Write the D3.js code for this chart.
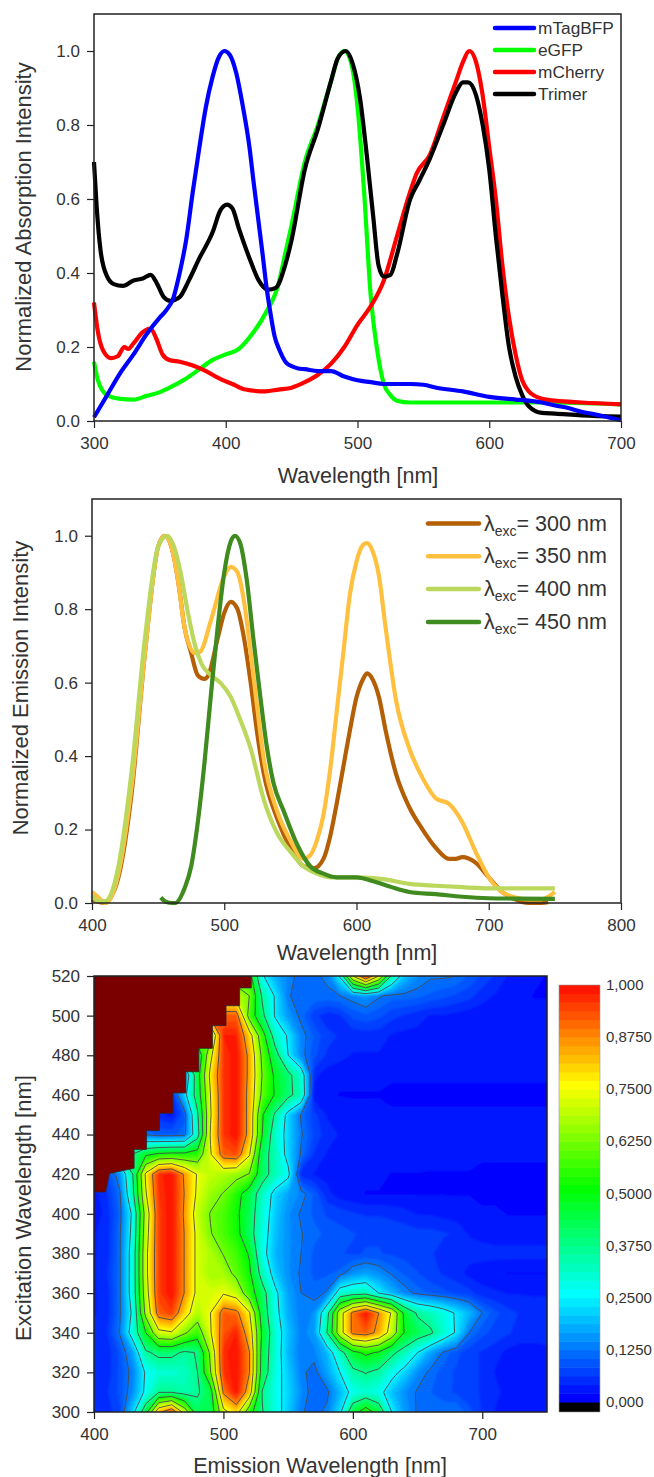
<!DOCTYPE html>
<html>
<head>
<meta charset="utf-8">
<script src="https://cdnjs.cloudflare.com/ajax/libs/d3/7.8.5/d3.min.js"></script>
<style>
    html, body { margin: 0; padding: 0; background: #fff; }
    svg text { font-family: "Liberation Sans", Arial, sans-serif; fill: #333; }
</style>
</head>
<body>
<svg id="figure" width="654" height="1477"></svg>
<script>
// top panel, absorption: [wavelength, normalized intensity]
const mTagBFP = [[300,.01],[310,.07],[320,.13],[330,.18],[340,.235],[350,.28],[355,.3],[360,.33],[365,.4],[370,.49],[375,.62],[380,.74],[385,.85],[390,.93],[395,.985],[399,1],[403,.99],[408,.94],[413,.85],[418,.74],[421,.65],[424.5,.55],[428,.45],[431,.36],[434,.29],[437,.23],[441,.19],[446,.157],[450,.148],[455,.142],[460,.14],[470,.135],[480,.135],[490,.12],[500,.11],[510,.105],[520,.1],[540,.1],[550,.098],[560,.09],[580,.08],[600,.065],[620,.058],[630,.055],[640,.05],[650,.042],[660,.035],[670,.025],[680,.018],[690,.01],[700,.002]];
const eGFP = [[300,.16],[303,.11],[310,.07],[320,.06],[330,.058],[340,.068],[350,.078],[360,.095],[370,.115],[380,.14],[390,.165],[400,.18],[410,.195],[420,.235],[430,.29],[440,.37],[445,.45],[450,.53],[460,.7],[470,.8],[480,.92],[485,.98],[490,1],[495,.97],[500,.85],[505,.62],[510,.34],[515,.19],[520,.1],[525,.07],[530,.055],[540,.05],[560,.05],[600,.05],[640,.05],[700,.045]];
const mCherry = [[300,.32],[303,.24],[307,.19],[313,.17],[318,.175],[323,.2],[326,.195],[330,.21],[337,.24],[343,.25],[347,.225],[352,.18],[357,.165],[365,.16],[375,.15],[385,.135],[395,.115],[405,.1],[415,.085],[430,.08],[440,.085],[450,.09],[460,.105],[470,.125],[480,.155],[490,.2],[500,.26],[510,.31],[520,.38],[530,.5],[540,.62],[545,.67],[555,.72],[565,.82],[575,.92],[580,.97],[585,1],[590,.97],[595,.88],[600,.74],[605,.6],[610,.42],[615,.28],[620,.18],[625,.11],[630,.08],[640,.06],[650,.055],[670,.05],[700,.045]];
const trimer = [[300,.7],[302,.58],[305,.46],[310,.39],[315,.37],[322,.365],[330,.38],[337,.385],[343,.395],[348,.37],[353,.335],[358,.325],[365,.335],[372,.38],[380,.44],[390,.51],[396,.57],[401,.585],[405,.575],[410,.52],[418,.44],[425,.38],[432,.355],[438,.36],[445,.42],[450,.49],[460,.68],[470,.79],[480,.92],[485,.98],[491,1],[496,.97],[502,.87],[507,.72],[512,.55],[516,.42],[520,.39],[525,.395],[530,.45],[540,.6],[547,.65],[555,.71],[565,.8],[575,.89],[580,.915],[584,.915],[590,.88],[595,.8],[600,.68],[605,.5],[610,.34],[615,.2],[620,.12],[625,.07],[630,.04],[640,.022],[650,.02],[670,.015],[700,.012]];

// middle panel, emission at four excitation wavelengths
const exc300 = [[400,.01],[410,0],[415,.02],[420,.07],[430,.3],[440,.68],[450,.97],[455,1],[460,.97],[465,.88],[470,.75],[475,.68],[480,.62],[485,.61],[488,.62],[495,.72],[500,.79],[505,.82],[510,.8],[515,.72],[520,.6],[525,.46],[530,.35],[540,.23],[550,.15],[560,.1],[568,.095],[575,.12],[580,.18],[585,.27],[590,.37],[595,.47],[600,.56],[605,.61],[608,.625],[612,.61],[617,.56],[622,.47],[630,.35],[640,.26],[650,.2],[660,.15],[670,.12],[675,.12],[680,.125],[690,.11],[700,.07],[710,.03],[720,.01],[730,0],[740,0],[745,.002]];
const exc350 = [[400,.03],[405,.015],[410,0],[415,.02],[420,.08],[430,.32],[440,.68],[450,.97],[455,1],[460,.97],[465,.88],[470,.75],[478,.68],[482,.685],[490,.77],[500,.89],[505,.915],[510,.9],[515,.82],[520,.68],[525,.53],[530,.39],[540,.25],[550,.17],[560,.12],[565,.13],[570,.17],[575,.24],[580,.36],[585,.52],[590,.68],[595,.84],[600,.93],[605,.975],[608,.98],[612,.96],[617,.89],[622,.75],[630,.55],[640,.42],[650,.34],[660,.285],[670,.27],[680,.22],[690,.14],[700,.07],[710,.03],[720,.015],[730,.01],[740,.01],[750,.03]];
const exc400 = [[400,.02],[405,.005],[410,.005],[415,.03],[420,.1],[430,.36],[440,.72],[450,.97],[457,1],[462,.97],[467,.9],[472,.8],[478,.7],[483,.65],[490,.62],[497,.6],[505,.56],[512,.5],[520,.42],[530,.28],[540,.19],[550,.14],[560,.1],[570,.08],[580,.07],[600,.07],[620,.065],[640,.052],[660,.047],[680,.043],[700,.04],[720,.04],[750,.04]];
const exc450 = [[452,.015],[455,.005],[460,0],[463,0],[470,.04],[475,.1],[480,.22],[485,.38],[490,.57],[495,.75],[500,.9],[505,.985],[508,1],[512,.98],[517,.88],[522,.72],[527,.57],[532,.43],[537,.33],[545,.25],[555,.16],[565,.1],[575,.08],[585,.07],[600,.07],[612,.06],[625,.045],[640,.03],[660,.024],[680,.017],[700,.013],[720,.012],[750,.011]];

const absorptionNames = ["mTagBFP", "eGFP", "mCherry", "Trimer"];
const absorptionColors = ["#0000ff", "#00ff00", "#ff0000", "#000000"];
const emissionExc = ["300", "350", "400", "450"];
const emissionColors = ["#b45f06", "#ffc03f", "#bcd85c", "#3f8b1f"];

// bottom panel, excitation-emission map, one row per excitation wavelength
const emissionNm = d3.range(400, 760, 10);
const excitationNm = d3.range(300, 530, 10);
const mapRows = [
    [.05,.05,.08,.22,.45,.85,.97,.70,.42,.42, .72,.80,.55,.38,.29,.21,.13,.11,.135,.23, .45,.56,.45,.25,.16,.12,.12,.12,.125,.09, .06,.04,.03,.03,.03,.03],
    [.05,.06,.09,.15,.27,.37,.37,.34,.36,.45, .89,1,.82,.37,.28,.22,.15,.105,.115,.19, .28,.30,.28,.20,.15,.12,.105,.09,.08,.07, .06,.05,.03,.025,.025,.025],
    [.05,.05,.09,.14,.26,.30,.30,.32,.375,.62, .96,1,.88,.44,.29,.21,.135,.11,.17,.25, .35,.38,.35,.28,.22,.15,.115,.095,.08,.07, .06,.04,.03,.025,.025,.025],
    [.05,.05,.09,.17,.36,.40,.40,.36,.38,.65, .97,1,.88,.45,.30,.19,.13,.14,.19,.33, .47,.52,.49,.40,.33,.25,.17,.12,.09,.07, .06,.05,.035,.03,.03,.03],
    [.05,.06,.13,.30,.50,.72,.74,.64,.56,.74, .93,.98,.82,.48,.30,.20,.135,.16,.375,.70, .90,.92,.85,.70,.49,.43,.39,.31,.24,.125, .09,.075,.065,.055,.055,.06],
    [.04,.05,.12,.27,.66,.92,.95,.80,.68,.75, .92,.90,.76,.44,.28,.18,.13,.15,.33,.70, .90,1,.875,.74,.47,.36,.33,.29,.24,.19, .125,.09,.07,.06,.05,.05],
    [.04,.05,.12,.30,.70,.95,1,.87,.72,.72, .74,.70,.56,.42,.27,.17,.125,.11,.13,.30, .33,.34,.25,.19,.14,.115,.10,.09,.08,.07, .05,.045,.04,.04,.04,.04],
    [.04,.06,.12,.30,.72,.95,1,.87,.72,.67, .67,.60,.52,.33,.21,.15,.12,.10,.10,.11, .15,.17,.15,.12,.10,.085,.07,.06,.05,.035, .03,.025,.02,.02,.02,.02],
    [.04,.05,.12,.30,.72,.95,1,.87,.72,.68, .62,.57,.49,.28,.19,.15,.125,.10,.09,.085, .08,.085,.085,.08,.075,.07,.065,.055,.05,.05, .05,.05,.05,.05,.05,.05],
    [.04,.05,.12,.28,.70,.95,1,.87,.72,.63, .58,.53,.42,.29,.20,.15,.127,.11,.10,.09, .085,.08,.08,.08,.075,.07,.07,.065,.06,.04, .035,.03,.03,.03,.03,.03],
    [.03,.05,.11,.27,.68,.95,1,.86,.70,.62, .58,.52,.43,.30,.21,.15,.12,.10,.08,.075, .065,.06,.06,.055,.05,.04,.04,.035,.03,.03, .025,.025,.02,.02,.02,.02],
    [.03,.06,.12,.35,.74,.96,1,.87,.73,.66, .62,.54,.44,.32,.22,.17,.14,.10,.05,.03, .025,.02,.02,.02,.02,.02,.02,.02,.02,.02, .015,.015,.015,.015,.015,.015],
    [null,.08,.15,.375,.77,.97,1,.86,.74,.70, .68,.66,.62,.42,.33,.27,.05,.04,.035,.03, .03,.025,.025,.02,.02,.02,.02,.02,.02,.02, .015,.015,.015,.015,.015,.015],
    [null,null,null,.38,.48,.52,.53,.53,.55,.74, .92,.94,.76,.42,.33,.22,.12,.06,.04,.035, .03,.03,.03,.03,.03,.03,.025,.025,.025,.025, .025,.025,.025,.025,.025,.025],
    [null,null,null,null,.12,.10,.10,.11,.33,.76, .96,1,.84,.50,.31,.22,.13,.08,.05,.04, .03,.03,.03,.03,.03,.03,.03,.03,.03,.03, .025,.025,.025,.025,.025,.025],
    [null,null,null,null,null,.05,.03,.10,.36,.74, .96,1,.84,.51,.36,.22,.12,.07,.04,.03, .025,.025,.025,.025,.025,.025,.025,.025,.025,.025, .025,.025,.025,.025,.025,.025],
    [null,null,null,null,null,null,.05,.22,.43,.75, .96,1,.84,.60,.49,.40,.33,.03,.025,.02, .02,.02,.02,.015,.015,.015,.015,.015,.015,.015, .015,.015,.015,.015,.015,.015],
    [null,null,null,null,null,null,null,.15,.45,.78, .96,1,.85,.62,.48,.40,.31,.05,.03,.025, .025,.025,.025,.025,.025,.025,.025,.025,.025,.025, .025,.025,.025,.025,.025,.025],
    [null,null,null,null,null,null,null,null,.40,.72, .96,1,.85,.60,.42,.25,.14,.09,.06,.05, .04,.04,.04,.04,.04,.035,.035,.035,.03,.03, .03,.03,.03,.03,.03,.03],
    [null,null,null,null,null,null,null,null,null,.60, .98,.98,.80,.55,.32,.24,.14,.10,.07,.06, .05,.05,.05,.04,.035,.035,.035,.03,.03,.03, .03,.03,.03,.03,.03,.03],
    [null,null,null,null,null,null,null,null,null,null, .92,.92,.58,.40,.24,.16,.115,.07,.05,.06, .09,.10,.09,.07,.06,.05,.04,.04,.035,.03, .03,.03,.025,.025,.025,.025],
    [null,null,null,null,null,null,null,null,null,null, null,.70,.625,.36,.24,.13,.105,.12,.12,.125, .14,.16,.13,.115,.115,.11,.10,.09,.08,.07, .05,.04,.03,.025,.02,.02],
    [null,null,null,null,null,null,null,null,null,null, null,null,.55,.26,.18,.14,.11,.12,.13,.26, .75,1,.75,.35,.20,.15,.13,.13,.125,.10, .08,.06,.04,.03,.025,.02]
];
// staircase outline of the unmeasured corner
const maskEmission = [400, 409, 412, 431, 431, 440.6, 440.6, 450.6, 450.6, 461, 461, 471, 471, 481, 481, 491.5, 491.5, 502, 502, 512.5, 512.5, 521.5, 521.5];
const maskExcitation = [411, 411, 420.4, 423, 432.5, 432.5, 442, 442, 450.7, 450.7, 461, 461, 471.7, 471.7, 483.5, 483.5, 495, 495, 505, 505, 514, 514, 520];

const bandCount = 48;
const bandLevels = d3.range(0, bandCount).map(i => i / bandCount);
const lineLevels = [.125, .25, .375, .5, .625, .75, .875];
const colorbarTicks = [0, .125, .25, .375, .5, .625, .75, .875, 1];
const colorbarLabels = ["0,000", "0,1250", "0,2500", "0,3750", "0,5000", "0,6250", "0,7500", "0,8750", "1,000"];

const svg = d3.select("#figure");
const rainbow = d3.scaleLinear()
    .domain([0, .25, .5, .75, 1])
    .range(["#0000ff", "#00ffff", "#00ff00", "#ffff00", "#ff0000"]);

// the map in the source is a soft raster, a small blur hides the facets of the grid
svg.append("filter").attr("id", "soft")
    .attr("x", "-5%").attr("y", "-5%").attr("width", "110%").attr("height", "110%")
    .append("feGaussianBlur").attr("stdDeviation", 1.2);

/** Frame, major and minor ticks and titles of one panel. */
function drawFrame(x, y, opts) {
    let [x0, x1] = x.range(), [y0, y1] = y.range();

    let bottom = svg.append("g").attr("transform", "translate(0," + y0 + ")");
    let left = svg.append("g").attr("transform", "translate(" + x0 + ",0)");

    bottom.call(d3.axisBottom(x).tickValues(opts.xMinor).tickSize(4).tickFormat(""));
    bottom.call(d3.axisBottom(x).tickValues(opts.xMajor).tickSize(7).tickPadding(9).tickFormat(d3.format("d")));
    left.call(d3.axisLeft(y).tickValues(opts.yMinor).tickSize(4).tickFormat(""));
    left.call(d3.axisLeft(y).tickValues(opts.yMajor).tickSize(7).tickPadding(7).tickFormat(opts.yFormat));

    svg.selectAll(".tick text").style("font-size", "17px");
    svg.selectAll(".tick line").attr("stroke", "#222").attr("stroke-width", 1.2);
    svg.selectAll(".domain").remove();

    svg.append("rect")
        .attr("x", x0).attr("y", y1)
        .attr("width", x1 - x0).attr("height", y0 - y1)
        .attr("fill", "none").attr("stroke", "#222").attr("stroke-width", 1.5);

    svg.append("text")
        .attr("x", opts.xTitleX).attr("y", opts.xTitleY)
        .attr("text-anchor", "middle").style("font-size", "21.5px")
        .text(opts.xTitle);
    svg.append("text")
        .attr("transform", "translate(" + opts.yTitleX + "," + opts.yTitleY + ") rotate(-90)")
        .attr("text-anchor", "middle").style("font-size", "22px")
        .text(opts.yTitle);
}

/** Draw a list of spectra into a panel. */
function drawCurves(x, y, seriesList, colors, width) {
    let line = d3.line()
        .x(d => x(d[0]))
        .y(d => y(d[1]))
        .curve(d3.curveMonotoneX);
    seriesList.forEach((series, i) => {
        svg.append("path")
            .attr("d", line(series))
            .attr("fill", "none")
            .attr("stroke", colors[i])
            .attr("stroke-width", width)
            .attr("stroke-linejoin", "round");
    });
}

// ---- absorption panel
let xAbs = d3.scaleLinear().domain([300, 700]).range([94, 621]);
let yAbs = d3.scaleLinear().domain([0, 1.1]).range([421, 14]);
drawCurves(xAbs, yAbs, [eGFP, mCherry, trimer, mTagBFP], [absorptionColors[1], absorptionColors[2], absorptionColors[3], absorptionColors[0]], 4.2);
drawFrame(xAbs, yAbs, {
    xMajor: d3.range(300, 701, 100), xMinor: d3.range(350, 700, 100),
    yMajor: d3.range(0, 11).filter(i => i % 2 === 0).map(i => i / 10),
    yMinor: d3.range(1, 11, 2).map(i => i / 10),
    yFormat: d3.format(".1f"),
    xTitle: "Wavelength [nm]", xTitleX: 358, xTitleY: 483,
    yTitle: "Normalized Absorption Intensity", yTitleX: 31, yTitleY: 217
});
absorptionNames.forEach((name, i) => {
    let ly = 28 + i * 22;
    svg.append("line").attr("x1", 495).attr("x2", 534).attr("y1", ly).attr("y2", ly)
        .attr("stroke", absorptionColors[i]).attr("stroke-width", 4.5).attr("stroke-linecap", "round");
    svg.append("text").attr("x", 538).attr("y", ly + 6).style("font-size", "17.3px").text(name);
});

// ---- emission panel
let xEm = d3.scaleLinear().domain([400, 800]).range([92, 621]);
let yEm = d3.scaleLinear().domain([0, 1.1]).range([903, 499]);
drawCurves(xEm, yEm, [exc300, exc350, exc400, exc450], emissionColors, 4.2);
drawFrame(xEm, yEm, {
    xMajor: d3.range(400, 801, 100), xMinor: d3.range(450, 800, 100),
    yMajor: d3.range(0, 11).filter(i => i % 2 === 0).map(i => i / 10),
    yMinor: d3.range(1, 11, 2).map(i => i / 10),
    yFormat: d3.format(".1f"),
    xTitle: "Wavelength [nm]", xTitleX: 357, xTitleY: 960,
    yTitle: "Normalized Emission Intensity", yTitleX: 28, yTitleY: 688
});
emissionExc.forEach((exc, i) => {
    let ly = 523.5 + i * 32.8;
    svg.append("line").attr("x1", 428).attr("x2", 479).attr("y1", ly).attr("y2", ly)
        .attr("stroke", emissionColors[i]).attr("stroke-width", 4.5).attr("stroke-linecap", "round");
    let label = svg.append("text").attr("x", 484).attr("y", ly + 7).style("font-size", "21.5px");
    label.append("tspan").text("λ");
    label.append("tspan").attr("dy", 5).style("font-size", "14px").text("exc");
    label.append("tspan").attr("dy", -5).text("= " + exc + " nm");
});

// ---- excitation-emission map
let xMap = d3.scaleLinear().domain([400, 750]).range([94, 547]);
let yMap = d3.scaleLinear().domain([300, 520]).range([1412, 976]);

// unmeasured cells take the next measured value in the row, they end up under the mask anyway
let gridValues = [];
mapRows.forEach(row => {
    let firstValid = row.find(v => v !== null);
    row.forEach(v => gridValues.push(v === null ? firstValid : v));
});

let toPixels = d3.geoTransform({
    point: function (gx, gy) {
        this.stream.point(
            xMap(emissionNm[0] + (gx - .5) * 10),
            yMap(excitationNm[0] + (gy - .5) * 10)
        );
    }
});
let contourPath = d3.geoPath(toPixels);
let contourMaker = d3.contours().size([emissionNm.length, excitationNm.length]);

svg.append("clipPath").attr("id", "mapClip").append("rect")
    .attr("x", 94).attr("y", 976).attr("width", 453).attr("height", 436);
let mapGroup = svg.append("g").attr("clip-path", "url(#mapClip)");
let bandGroup = mapGroup.append("g").attr("filter", "url(#soft)");

bandGroup.append("rect")
    .attr("x", 80).attr("y", 960).attr("width", 480).attr("height", 470)
    .attr("fill", rainbow(0));

bandGroup.selectAll("path.band")
    .data(contourMaker.thresholds(bandLevels)(gridValues))
    .enter().append("path")
    .attr("class", "band")
    .attr("d", contourPath)
    .attr("fill", d => rainbow(d.value))
    .attr("fill-rule", "evenodd");

mapGroup.selectAll("path.level")
    .data(contourMaker.thresholds(lineLevels)(gridValues))
    .enter().append("path")
    .attr("class", "level")
    .attr("d", contourPath)
    .attr("fill", "none")
    .attr("stroke", "#4a4a4a")
    .attr("stroke-width", .9);

let maskPoints = [[400, 520]].concat(maskEmission.map((e, i) => [e, maskExcitation[i]]));
mapGroup.append("path")
    .attr("d", d3.line().x(d => xMap(d[0])).y(d => yMap(d[1]))(maskPoints) + "Z")
    .attr("fill", "#7a0000")
    .attr("stroke", "#2a2a2a")
    .attr("stroke-width", .8);

drawFrame(xMap, yMap, {
    xMajor: d3.range(400, 701, 100), xMinor: d3.range(450, 751, 100),
    yMajor: d3.range(300, 521, 20), yMinor: d3.range(310, 520, 20),
    yFormat: d3.format("d"),
    xTitle: "Emission Wavelength [nm]", xTitleX: 320, xTitleY: 1473,
    yTitle: "Excitation Wavelength [nm]", yTitleX: 31, yTitleY: 1208
});

// ---- colour bar
let yBar = d3.scaleLinear().domain([0, 1]).range([1402, 985]);
let barGroup = svg.append("g");
barGroup.append("rect")
    .attr("x", 559).attr("y", yBar(0)).attr("width", 41).attr("height", 10)
    .attr("fill", "#000");
barGroup.selectAll("rect.bar")
    .data(bandLevels)
    .enter().append("rect")
    .attr("class", "bar")
    .attr("x", 559).attr("width", 41)
    .attr("y", d => yBar(d + 1 / bandCount))
    .attr("height", d => yBar(d) - yBar(d + 1 / bandCount) + .5)
    .attr("fill", d => rainbow(d));
barGroup.append("rect")
    .attr("x", 559).attr("y", yBar(1)).attr("width", 41).attr("height", yBar(0) + 10 - yBar(1))
    .attr("fill", "none").attr("stroke", "#999").attr("stroke-width", .6);
colorbarTicks.forEach((t, i) => {
    barGroup.append("text")
        .attr("x", 606).attr("y", yBar(t) + 5)
        .style("font-size", "15px")
        .text(colorbarLabels[i]);
});
</script>
</body>
</html>
